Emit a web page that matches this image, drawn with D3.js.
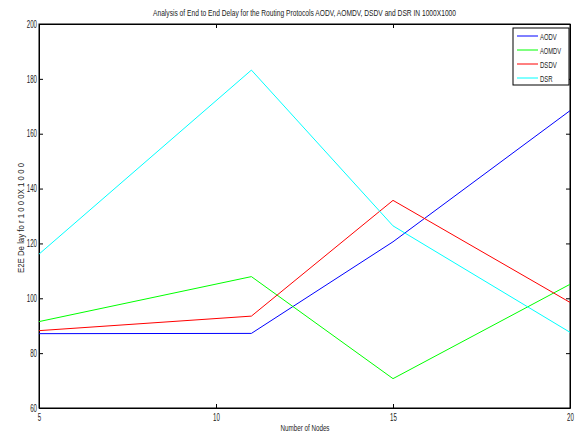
<!DOCTYPE html>
<html>
<head>
<meta charset="utf-8">
<script src="https://cdn.jsdelivr.net/npm/d3@7"></script>
<style>
  body { margin: 0; background: #fff; }
  text { font-family: "Liberation Sans", Arial, sans-serif; fill: #222; }
</style>
</head>
<body>
<div id="chart"></div>
<script>
// data
const nodes = [5, 11, 15, 20];
const aodv  = [87.1, 87.2, 120.6, 168.4];
const aomdv = [91.5, 107.9, 70.7, 105.1];
const dsdv  = [88.2, 93.5, 135.7, 98.5];
const dsr   = [116.1, 183.2, 126.4, 87.6];
const xTicks = [5, 10, 15, 20];
const yTicks = [60, 80, 100, 120, 140, 160, 180, 200];

const series = [
    { name: "AODV", values: aodv, color: "#0000ff" },
    { name: "AOMDV", values: aomdv, color: "#00ff00" },
    { name: "DSDV", values: dsdv, color: "#ff0000" },
    { name: "DSR", values: dsr, color: "#00ffff" }
];

const width = 575, height = 434;
const m = { top: 24, right: 5, bottom: 26, left: 39 };
const w = width - m.left - m.right;
const h = height - m.top - m.bottom;

// the original font is a narrow one, so squeeze text to its width
const squeeze = (sel, len) => sel
    .attr("textLength", len)
    .attr("lengthAdjust", "spacingAndGlyphs");

const svg = d3.select("#chart").append("svg")
    .attr("width", width)
    .attr("height", height);

const g = svg.append("g").attr("transform", `translate(${m.left},${m.top})`);

const x = d3.scaleLinear().domain([5, 20]).range([0, w]);
const y = d3.scaleLinear().domain([60, 200]).range([h, 0]);

// box
g.append("rect")
    .attr("width", w).attr("height", h)
    .attr("fill", "none").attr("stroke", "#000").attr("stroke-width", 1);

// axes, ticks pointing inward
const axB = g.append("g").attr("transform", `translate(0,${h})`)
    .call(d3.axisBottom(x).tickValues(xTicks).tickSizeInner(-4).tickSizeOuter(0).tickPadding(6));
const axT = g.append("g")
    .call(d3.axisTop(x).tickValues(xTicks).tickSizeInner(-4).tickSizeOuter(0).tickFormat(""));
const axL = g.append("g")
    .call(d3.axisLeft(y).tickValues(yTicks).tickSizeInner(-4).tickSizeOuter(0).tickPadding(2));
const axR = g.append("g").attr("transform", `translate(${w},0)`)
    .call(d3.axisRight(y).tickValues(yTicks).tickSizeInner(-4).tickSizeOuter(0).tickFormat(""));

[axB, axT, axL, axR].forEach(a => {
    a.select(".domain").attr("stroke", "#000");
    a.selectAll(".tick line").attr("stroke", "#000");
    a.selectAll("text")
        .style("font-size", "10px")
        .attr("fill", "#333")
        .each(function () {
            squeeze(d3.select(this), this.textContent.length * 3.4);
        });
});

// lines
const line = d3.line()
    .x((d, i) => x(nodes[i]))
    .y(d => y(d));

g.selectAll(".series")
    .data(series)
    .enter()
    .append("path")
    .attr("d", d => line(d.values))
    .attr("fill", "none")
    .attr("stroke", d => d.color)
    .attr("stroke-width", 1);

// title and labels
svg.append("text")
    .attr("x", m.left + w / 2).attr("y", 16)
    .attr("text-anchor", "middle")
    .style("font-size", "9.5px")
    .text("Analysis of End to End Delay for the Routing Protocols AODV, AOMDV, DSDV and DSR IN 1000X1000")
    .call(squeeze, 303);

svg.append("text")
    .attr("x", 305).attr("y", 431)
    .attr("text-anchor", "middle")
    .style("font-size", "9px")
    .text("Number of Nodes")
    .call(squeeze, 49);

svg.append("text")
    .attr("transform", `translate(24,218) rotate(-90)`)
    .attr("text-anchor", "middle")
    .style("font-size", "9px")
    .text("E2E De lay fo r 1 0 0 0X 1 0 0 0")
    .call(squeeze, 110);

// legend
const lg = svg.append("g").attr("transform", "translate(513,28)");
lg.append("rect")
    .attr("width", 56).attr("height", 57)
    .attr("fill", "#fff").attr("stroke", "#000").attr("stroke-width", 1);
const items = lg.selectAll(".item")
    .data(series)
    .enter()
    .append("g")
    .attr("transform", (d, i) => `translate(0,${8 + i * 14})`);
items.append("line")
    .attr("x1", 4).attr("x2", 25)
    .attr("stroke", d => d.color).attr("stroke-width", 1);
items.append("text")
    .attr("x", 27).attr("y", 3.5)
    .style("font-size", "9px")
    .text(d => d.name)
    .each(function (d) {
        squeeze(d3.select(this), d.name.length * 4.2);
    });
</script>
</body>
</html>
